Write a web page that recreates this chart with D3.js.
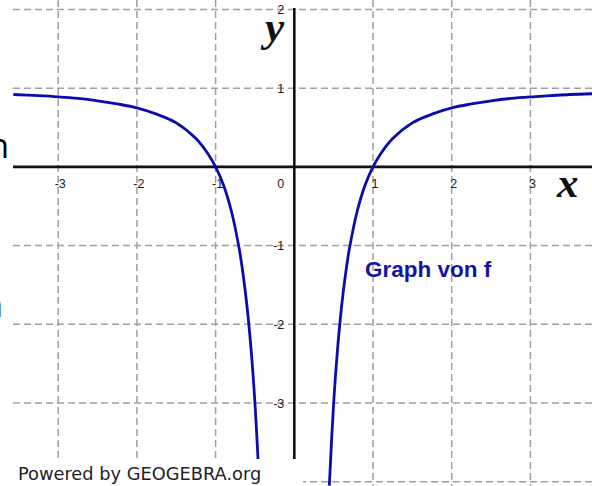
<!DOCTYPE html>
<html>
<head>
<meta charset="utf-8">
<script src="https://cdn.jsdelivr.net/npm/d3@7"></script>
<style>
  html, body { margin: 0; padding: 0; background: #fff; }
  svg { display: block; }
</style>
</head>
<body>
<svg id="chart" width="592" height="486"></svg>
<script>
// ---- data ----
const leftX  = [-3.57, -3.25, -3, -2.75, -2.5, -2.25, -2, -1.75, -1.5, -1.25, -1.1, -1, -0.9, -0.8, -0.7, -0.65, -0.6, -0.55, -0.5, -0.46];
const leftY  = [0.92, 0.905, 0.89, 0.87, 0.84, 0.80, 0.75, 0.67, 0.56, 0.36, 0.17, 0, -0.23, -0.56, -1.04, -1.37, -1.78, -2.31, -3, -3.73];
const rightX = [0.445, 0.5, 0.55, 0.6, 0.65, 0.7, 0.8, 0.9, 1, 1.1, 1.25, 1.5, 1.75, 2, 2.25, 2.5, 2.75, 3, 3.25, 3.5, 3.79];
const rightY = [-4.05, -3, -2.31, -1.78, -1.37, -1.04, -0.56, -0.23, 0, 0.17, 0.36, 0.56, 0.67, 0.75, 0.80, 0.84, 0.87, 0.89, 0.905, 0.92, 0.93];
const xTickValues = [-3, -2, -1, 1, 2, 3];
const xTickLabels = ["-3", "-2", "-1", "1", "2", "3"];
const yTickValues = [2, 1, -1, -2, -3];
const yTickLabels = ["2", "1", "-1", "-2", "-3"];
const gridXValues = [-3, -2, -1, 1, 2, 3];
const gridYValues = [2, 1, -1, -2, -3, -4];
const curveLabel = "Graph von f";
const footerText = "Powered by GEOGEBRA.org";

// ---- layout ----
const W = 592, H = 486;
const plotLeft = 13;
const x0 = 294.3, y0 = 166.9, unit = 78.7;
const x = d3.scaleLinear().domain([0, 1]).range([x0, x0 + unit]);
const y = d3.scaleLinear().domain([0, 1]).range([y0, y0 - unit]);

const svg = d3.select("#chart");
svg.append("rect").attr("width", W).attr("height", H).attr("fill", "#fff");

svg.append("defs").append("clipPath").attr("id", "plotclip")
  .append("rect").attr("x", plotLeft).attr("y", 0).attr("width", W - plotLeft).attr("height", H);

const plot = svg.append("g").attr("clip-path", "url(#plotclip)");

// grid
const gridColor = "#a0a0a0";
plot.append("g").selectAll("line").data(gridXValues).join("line")
  .attr("x1", d => x(d)).attr("x2", d => x(d))
  .attr("y1", 0).attr("y2", H)
  .attr("stroke", gridColor).attr("stroke-width", 1.5)
  .attr("stroke-dasharray", "7,4");
plot.append("g").selectAll("line").data(gridYValues).join("line")
  .attr("y1", d => y(d)).attr("y2", d => y(d))
  .attr("x1", plotLeft).attr("x2", W)
  .attr("stroke", gridColor).attr("stroke-width", 1.5)
  .attr("stroke-dasharray", "7,4");

// axes
plot.append("line")
  .attr("x1", plotLeft).attr("x2", W).attr("y1", y(0)).attr("y2", y(0))
  .attr("stroke", "#111").attr("stroke-width", 2.6);
plot.append("line")
  .attr("x1", x(0)).attr("x2", x(0)).attr("y1", 8).attr("y2", 460)
  .attr("stroke", "#111").attr("stroke-width", 2.6);

// curve
const line = d3.line().x(d => x(d[0])).y(d => y(d[1])).curve(d3.curveCatmullRom.alpha(0.5));
const curveColor = "#0c0cad";
plot.append("path").datum(d3.zip(leftX, leftY))
  .attr("d", line).attr("fill", "none")
  .attr("stroke", curveColor).attr("stroke-width", 2.8);
plot.append("path").datum(d3.zip(rightX, rightY))
  .attr("d", line).attr("fill", "none")
  .attr("stroke", curveColor).attr("stroke-width", 2.8);

// tick labels
const tickFont = "'Liberation Sans', Arial, sans-serif";
svg.append("g").selectAll("text").data(xTickValues).join("text")
  .attr("x", d => x(d) + 2).attr("y", y(0) + 21)
  .attr("text-anchor", "middle")
  .attr("font-family", tickFont).attr("font-size", 12.5).attr("fill", "#1a1a1a")
  .text((d, i) => xTickLabels[i]);
svg.append("text")
  .attr("x", x(0) - 10).attr("y", y(0) + 21)
  .attr("text-anchor", "end")
  .attr("font-family", tickFont).attr("font-size", 12.5).attr("fill", "#1a1a1a")
  .text("0");
svg.append("g").selectAll("text").data(yTickValues).join("text")
  .attr("x", x(0) - 10).attr("y", d => y(d) + 4.5)
  .attr("text-anchor", "end")
  .attr("font-family", tickFont).attr("font-size", 12.5).attr("fill", "#1a1a1a")
  .text((d, i) => yTickLabels[i]);

// axis names
svg.append("text")
  .attr("x", 284).attr("y", 41)
  .attr("text-anchor", "end")
  .attr("font-family", "'Liberation Serif', 'Times New Roman', serif")
  .attr("font-style", "italic").attr("font-weight", "bold")
  .attr("font-size", 43).attr("fill", "#111")
  .text("y");
svg.append("text")
  .attr("x", 557).attr("y", 197)
  .attr("font-family", "'Liberation Serif', 'Times New Roman', serif")
  .attr("font-style", "italic").attr("font-weight", "bold")
  .attr("font-size", 43).attr("fill", "#111")
  .text("x");

// curve label
svg.append("text")
  .attr("x", 365).attr("y", 277)
  .attr("font-family", "'Liberation Sans', Arial, sans-serif")
  .attr("font-weight", "bold").attr("font-size", 22.5)
  .attr("fill", "#1414a0")
  .text(curveLabel);

// footer box
svg.append("rect").attr("x", 0).attr("y", 459).attr("width", 303).attr("height", H - 459).attr("fill", "#fff");
svg.append("text")
  .attr("x", 18).attr("y", 480)
  .attr("font-family", "'DejaVu Sans', Verdana, sans-serif")
  .attr("font-size", 17.8).attr("fill", "#222")
  .text(footerText);

// cropped surrounding text at the left edge
svg.append("text")
  .attr("x", 9).attr("y", 158)
  .attr("text-anchor", "end")
  .attr("font-family", "'Open Sans', sans-serif")
  .attr("font-size", 34).attr("fill", "#000")
  .text("n");
svg.append("text")
  .attr("x", 3).attr("y", 317)
  .attr("text-anchor", "end")
  .attr("font-family", "'Open Sans', sans-serif")
  .attr("font-size", 34).attr("fill", "#000")
  .text("n");
</script>
</body>
</html>
